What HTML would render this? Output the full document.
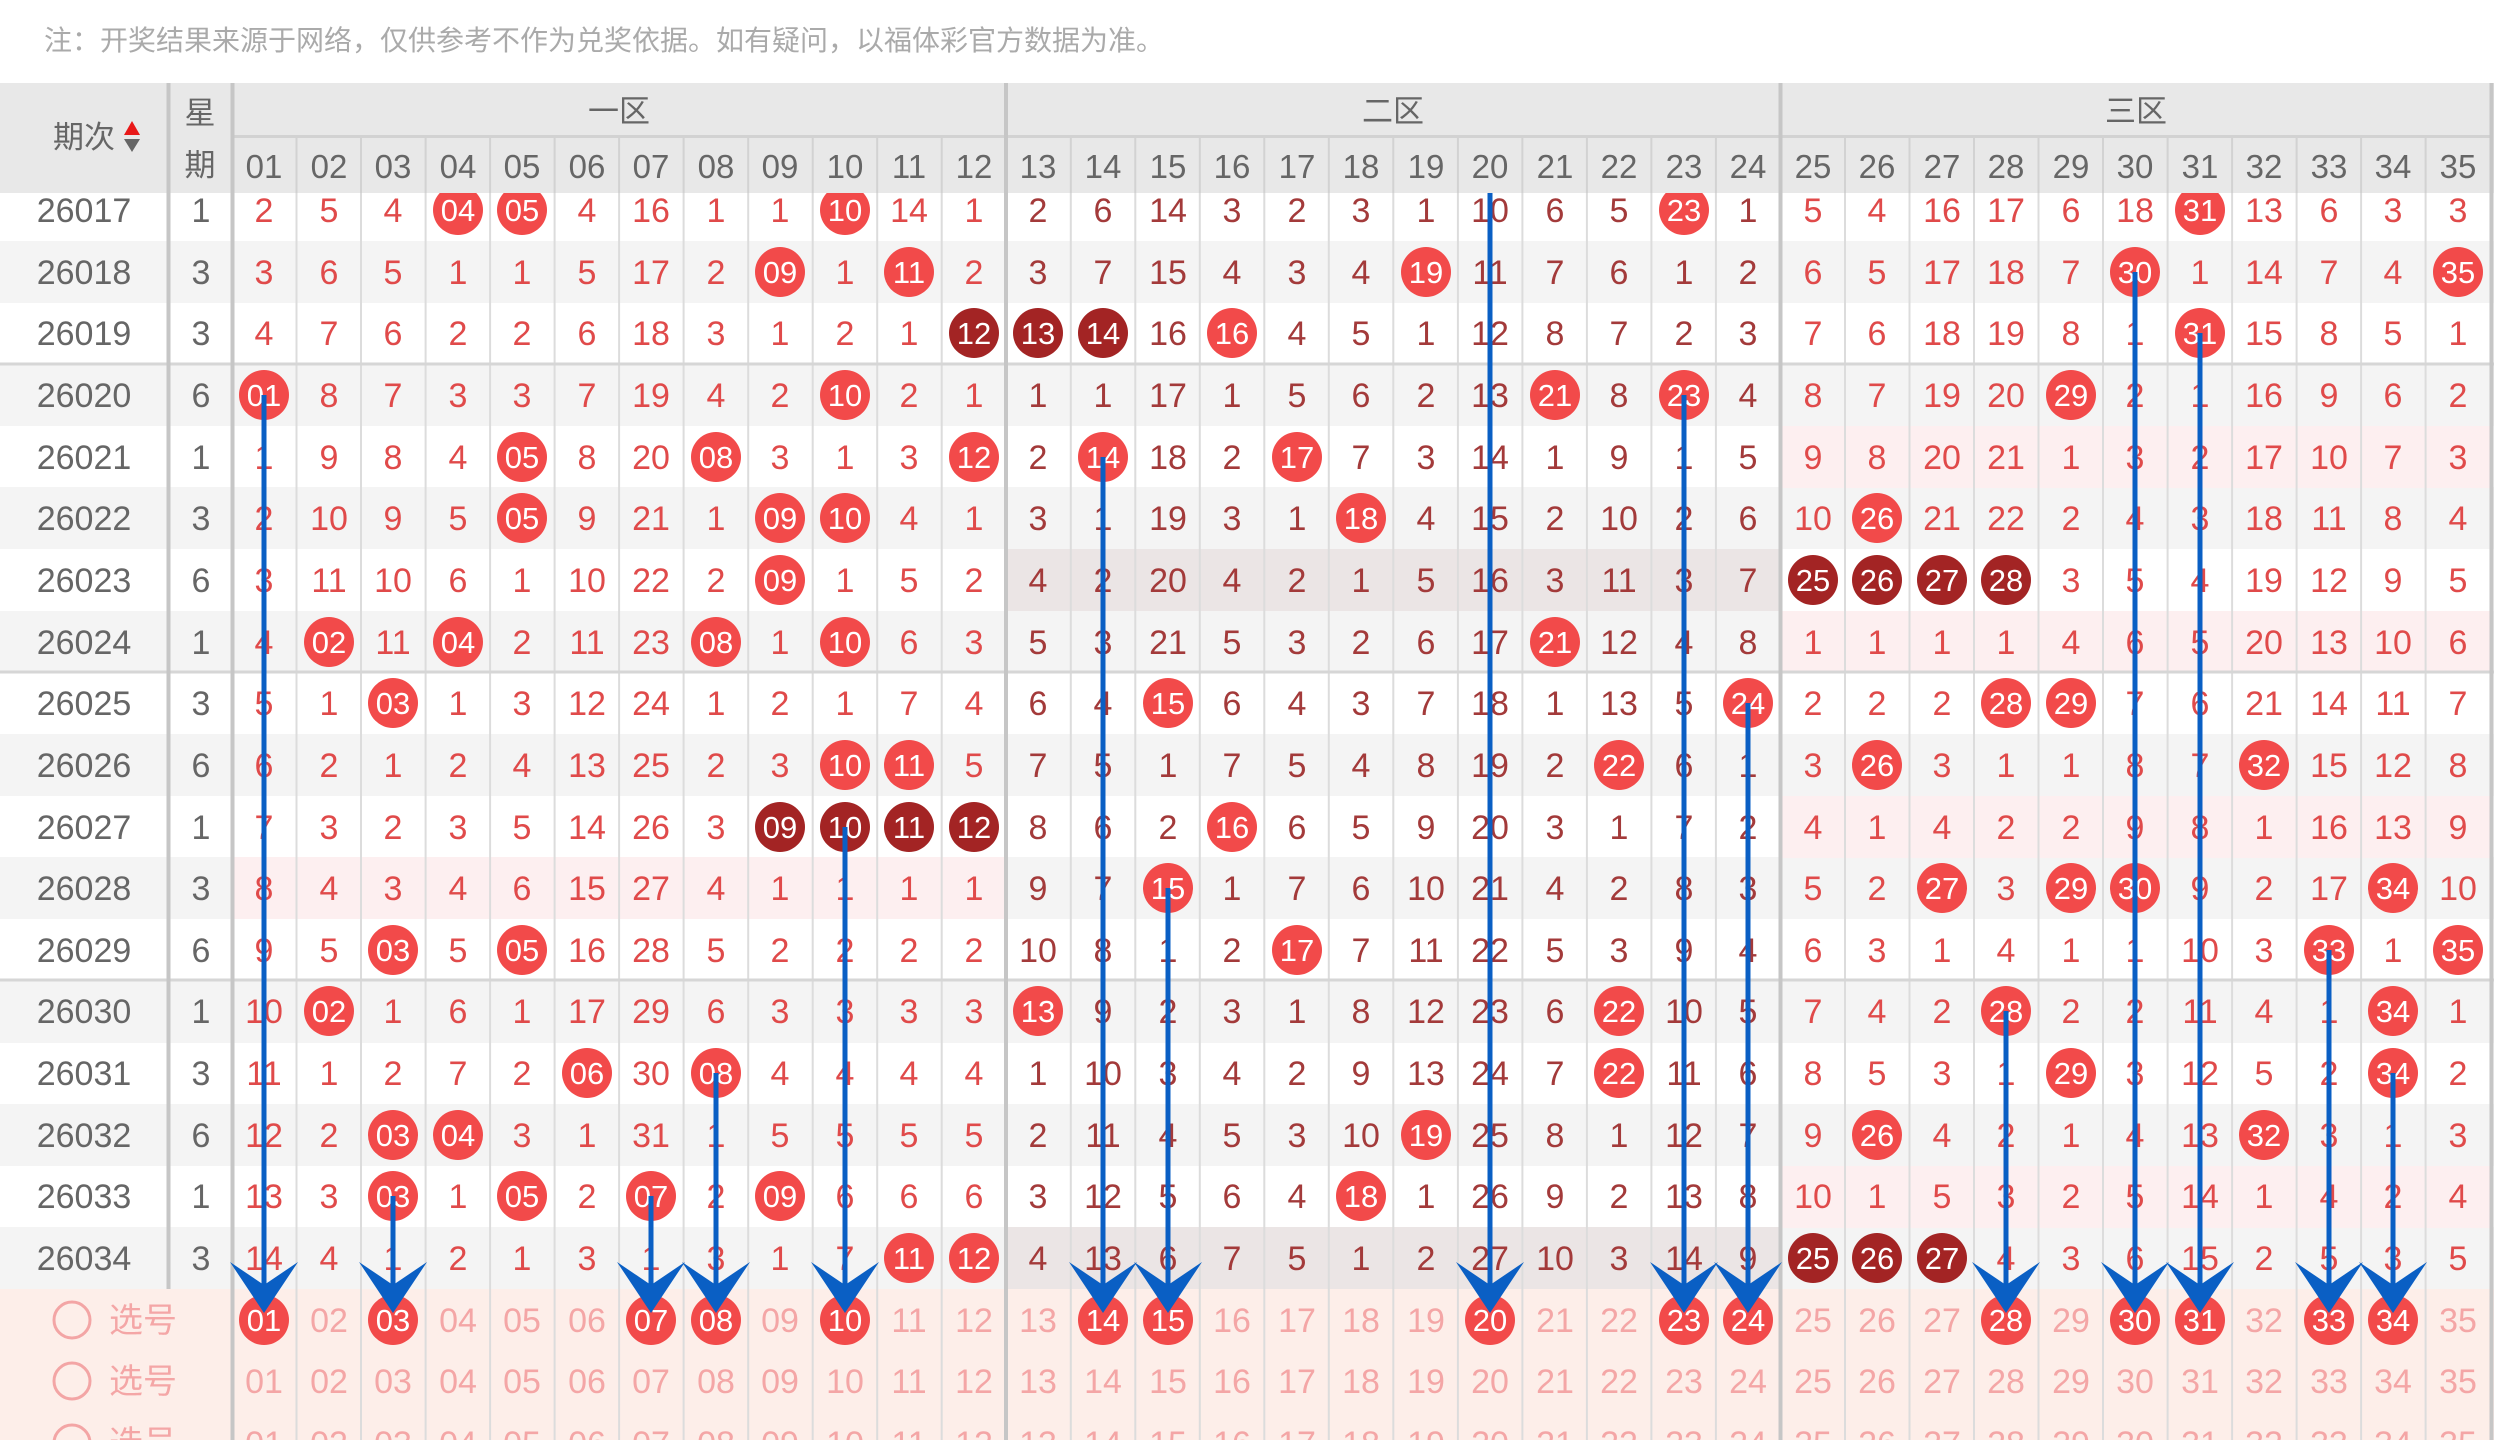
<!DOCTYPE html>
<html><head><meta charset="utf-8"><style>
html,body{margin:0;padding:0;background:#fff;}
svg{display:block;}
text{font-family:"Liberation Sans","Noto Sans CJK SC",sans-serif;}
.a{fill:#e04a4a;font-size:34px;}
.b{fill:#a33a3a;font-size:34px;}
.w{fill:#fff;font-size:31px;}
.g{fill:#666;font-size:34px;}
.h{fill:#666;font-size:33px;}
.p{fill:#f4a6a6;font-size:34px;}
.r{fill:#f24a4a;}
.d{fill:#a32424;}
</style></head><body>
<svg width="2494" height="1440" viewBox="0 0 2494 1440" xmlns="http://www.w3.org/2000/svg">
<rect width="2494" height="1440" fill="#fff"/>
<text x="44" y="50" style="font-size:28px;fill:#aaa">注：开奖结果来源于网络，仅供参考不作为兑奖依据。如有疑问，以福体彩官方数据为准。</text>
<!-- row backgrounds -->
<g fill="#f4f4f4">
<rect x="0" y="241" width="2494" height="62"/>
<rect x="0" y="364" width="2494" height="62"/>
<rect x="0" y="487" width="2494" height="62"/>
<rect x="0" y="611" width="2494" height="62"/>
<rect x="0" y="734" width="2494" height="62"/>
<rect x="0" y="857" width="2494" height="62"/>
<rect x="0" y="981" width="2494" height="62"/>
<rect x="0" y="1104" width="2494" height="62"/>
<rect x="0" y="1227" width="2494" height="62"/>
</g>
<g fill="#fdeff0">
<rect x="1781" y="426" width="710" height="62"/>
<rect x="1781" y="611" width="710" height="62"/>
<rect x="1781" y="796" width="710" height="62"/>
<rect x="1781" y="1166" width="710" height="62"/>
<rect x="234" y="857" width="772" height="62"/>
</g>
<g fill="#ebe5e5">
<rect x="1006" y="549" width="775" height="62"/>
<rect x="1006" y="1227" width="775" height="62"/>
</g>
<rect x="0" y="1289" width="2494" height="151" fill="#fdeee9"/>
<!-- grid -->
<path d="M296.5 137V1440M361 137V1440M425.6 137V1440M490.1 137V1440M554.6 137V1440M619.1 137V1440M683.6 137V1440M748.2 137V1440M812.7 137V1440M877.2 137V1440M941.7 137V1440M1070.8 137V1440M1135.3 137V1440M1199.8 137V1440M1264.3 137V1440M1328.8 137V1440M1393.3 137V1440M1457.9 137V1440M1522.4 137V1440M1586.9 137V1440M1651.4 137V1440M1715.9 137V1440M1845 137V1440M1909.5 137V1440M1974 137V1440M2038.5 137V1440M2103 137V1440M2167.6 137V1440M2232.1 137V1440M2296.6 137V1440M2361.1 137V1440M2425.6 137V1440" stroke="#dcdcdc" stroke-width="2" fill="none"/>
<path d="M0 364H2494M0 672H2494M0 980H2494" stroke="#d6d6d6" stroke-width="3"/>
<path d="M168.5 83V1289M232.5 83V1440M1006 83V1440M1780.5 83V1440M2491.5 83V1440" stroke="#c6c6c6" stroke-width="4" fill="none"/>

<!-- period & weekday -->
<g class="g" text-anchor="middle">
<text x="84" y="222">26017</text><text x="201" y="222">1</text>
<text x="84" y="284">26018</text><text x="201" y="284">3</text>
<text x="84" y="345">26019</text><text x="201" y="345">3</text>
<text x="84" y="407">26020</text><text x="201" y="407">6</text>
<text x="84" y="469">26021</text><text x="201" y="469">1</text>
<text x="84" y="530">26022</text><text x="201" y="530">3</text>
<text x="84" y="592">26023</text><text x="201" y="592">6</text>
<text x="84" y="654">26024</text><text x="201" y="654">1</text>
<text x="84" y="715">26025</text><text x="201" y="715">3</text>
<text x="84" y="777">26026</text><text x="201" y="777">6</text>
<text x="84" y="839">26027</text><text x="201" y="839">1</text>
<text x="84" y="900">26028</text><text x="201" y="900">3</text>
<text x="84" y="962">26029</text><text x="201" y="962">6</text>
<text x="84" y="1023">26030</text><text x="201" y="1023">1</text>
<text x="84" y="1085">26031</text><text x="201" y="1085">3</text>
<text x="84" y="1147">26032</text><text x="201" y="1147">6</text>
<text x="84" y="1208">26033</text><text x="201" y="1208">1</text>
<text x="84" y="1270">26034</text><text x="201" y="1270">3</text>
</g>

<g text-anchor="middle">
<!-- r0 -->
<text class="a" y="222"><tspan x="264">2</tspan><tspan x="329">5</tspan><tspan x="393">4</tspan><tspan x="587">4</tspan><tspan x="651">16</tspan><tspan x="716">1</tspan><tspan x="780">1</tspan><tspan x="909">14</tspan><tspan x="974">1</tspan><tspan x="1813">5</tspan><tspan x="1877">4</tspan><tspan x="1942">16</tspan><tspan x="2006">17</tspan><tspan x="2071">6</tspan><tspan x="2135">18</tspan><tspan x="2264">13</tspan><tspan x="2329">6</tspan><tspan x="2393">3</tspan><tspan x="2458">3</tspan></text>
<text class="b" y="222"><tspan x="1038">2</tspan><tspan x="1103">6</tspan><tspan x="1168">14</tspan><tspan x="1232">3</tspan><tspan x="1297">2</tspan><tspan x="1361">3</tspan><tspan x="1426">1</tspan><tspan x="1490">10</tspan><tspan x="1555">6</tspan><tspan x="1619">5</tspan><tspan x="1748">1</tspan></text>
<!-- r1 -->
<text class="a" y="284"><tspan x="264">3</tspan><tspan x="329">6</tspan><tspan x="393">5</tspan><tspan x="458">1</tspan><tspan x="522">1</tspan><tspan x="587">5</tspan><tspan x="651">17</tspan><tspan x="716">2</tspan><tspan x="845">1</tspan><tspan x="974">2</tspan><tspan x="1813">6</tspan><tspan x="1877">5</tspan><tspan x="1942">17</tspan><tspan x="2006">18</tspan><tspan x="2071">7</tspan><tspan x="2200">1</tspan><tspan x="2264">14</tspan><tspan x="2329">7</tspan><tspan x="2393">4</tspan></text>
<text class="b" y="284"><tspan x="1038">3</tspan><tspan x="1103">7</tspan><tspan x="1168">15</tspan><tspan x="1232">4</tspan><tspan x="1297">3</tspan><tspan x="1361">4</tspan><tspan x="1490">11</tspan><tspan x="1555">7</tspan><tspan x="1619">6</tspan><tspan x="1684">1</tspan><tspan x="1748">2</tspan></text>
<!-- r2 -->
<text class="a" y="345"><tspan x="264">4</tspan><tspan x="329">7</tspan><tspan x="393">6</tspan><tspan x="458">2</tspan><tspan x="522">2</tspan><tspan x="587">6</tspan><tspan x="651">18</tspan><tspan x="716">3</tspan><tspan x="780">1</tspan><tspan x="845">2</tspan><tspan x="909">1</tspan><tspan x="1813">7</tspan><tspan x="1877">6</tspan><tspan x="1942">18</tspan><tspan x="2006">19</tspan><tspan x="2071">8</tspan><tspan x="2135">1</tspan><tspan x="2264">15</tspan><tspan x="2329">8</tspan><tspan x="2393">5</tspan><tspan x="2458">1</tspan></text>
<text class="b" y="345"><tspan x="1168">16</tspan><tspan x="1297">4</tspan><tspan x="1361">5</tspan><tspan x="1426">1</tspan><tspan x="1490">12</tspan><tspan x="1555">8</tspan><tspan x="1619">7</tspan><tspan x="1684">2</tspan><tspan x="1748">3</tspan></text>
<!-- r3 -->
<text class="a" y="407"><tspan x="329">8</tspan><tspan x="393">7</tspan><tspan x="458">3</tspan><tspan x="522">3</tspan><tspan x="587">7</tspan><tspan x="651">19</tspan><tspan x="716">4</tspan><tspan x="780">2</tspan><tspan x="909">2</tspan><tspan x="974">1</tspan><tspan x="1813">8</tspan><tspan x="1877">7</tspan><tspan x="1942">19</tspan><tspan x="2006">20</tspan><tspan x="2135">2</tspan><tspan x="2200">1</tspan><tspan x="2264">16</tspan><tspan x="2329">9</tspan><tspan x="2393">6</tspan><tspan x="2458">2</tspan></text>
<text class="b" y="407"><tspan x="1038">1</tspan><tspan x="1103">1</tspan><tspan x="1168">17</tspan><tspan x="1232">1</tspan><tspan x="1297">5</tspan><tspan x="1361">6</tspan><tspan x="1426">2</tspan><tspan x="1490">13</tspan><tspan x="1619">8</tspan><tspan x="1748">4</tspan></text>
<!-- r4 -->
<text class="a" y="469"><tspan x="264">1</tspan><tspan x="329">9</tspan><tspan x="393">8</tspan><tspan x="458">4</tspan><tspan x="587">8</tspan><tspan x="651">20</tspan><tspan x="780">3</tspan><tspan x="845">1</tspan><tspan x="909">3</tspan><tspan x="1813">9</tspan><tspan x="1877">8</tspan><tspan x="1942">20</tspan><tspan x="2006">21</tspan><tspan x="2071">1</tspan><tspan x="2135">3</tspan><tspan x="2200">2</tspan><tspan x="2264">17</tspan><tspan x="2329">10</tspan><tspan x="2393">7</tspan><tspan x="2458">3</tspan></text>
<text class="b" y="469"><tspan x="1038">2</tspan><tspan x="1168">18</tspan><tspan x="1232">2</tspan><tspan x="1361">7</tspan><tspan x="1426">3</tspan><tspan x="1490">14</tspan><tspan x="1555">1</tspan><tspan x="1619">9</tspan><tspan x="1684">1</tspan><tspan x="1748">5</tspan></text>
<!-- r5 -->
<text class="a" y="530"><tspan x="264">2</tspan><tspan x="329">10</tspan><tspan x="393">9</tspan><tspan x="458">5</tspan><tspan x="587">9</tspan><tspan x="651">21</tspan><tspan x="716">1</tspan><tspan x="909">4</tspan><tspan x="974">1</tspan><tspan x="1813">10</tspan><tspan x="1942">21</tspan><tspan x="2006">22</tspan><tspan x="2071">2</tspan><tspan x="2135">4</tspan><tspan x="2200">3</tspan><tspan x="2264">18</tspan><tspan x="2329">11</tspan><tspan x="2393">8</tspan><tspan x="2458">4</tspan></text>
<text class="b" y="530"><tspan x="1038">3</tspan><tspan x="1103">1</tspan><tspan x="1168">19</tspan><tspan x="1232">3</tspan><tspan x="1297">1</tspan><tspan x="1426">4</tspan><tspan x="1490">15</tspan><tspan x="1555">2</tspan><tspan x="1619">10</tspan><tspan x="1684">2</tspan><tspan x="1748">6</tspan></text>
<!-- r6 -->
<text class="a" y="592"><tspan x="264">3</tspan><tspan x="329">11</tspan><tspan x="393">10</tspan><tspan x="458">6</tspan><tspan x="522">1</tspan><tspan x="587">10</tspan><tspan x="651">22</tspan><tspan x="716">2</tspan><tspan x="845">1</tspan><tspan x="909">5</tspan><tspan x="974">2</tspan><tspan x="2071">3</tspan><tspan x="2135">5</tspan><tspan x="2200">4</tspan><tspan x="2264">19</tspan><tspan x="2329">12</tspan><tspan x="2393">9</tspan><tspan x="2458">5</tspan></text>
<text class="b" y="592"><tspan x="1038">4</tspan><tspan x="1103">2</tspan><tspan x="1168">20</tspan><tspan x="1232">4</tspan><tspan x="1297">2</tspan><tspan x="1361">1</tspan><tspan x="1426">5</tspan><tspan x="1490">16</tspan><tspan x="1555">3</tspan><tspan x="1619">11</tspan><tspan x="1684">3</tspan><tspan x="1748">7</tspan></text>
<!-- r7 -->
<text class="a" y="654"><tspan x="264">4</tspan><tspan x="393">11</tspan><tspan x="522">2</tspan><tspan x="587">11</tspan><tspan x="651">23</tspan><tspan x="780">1</tspan><tspan x="909">6</tspan><tspan x="974">3</tspan><tspan x="1813">1</tspan><tspan x="1877">1</tspan><tspan x="1942">1</tspan><tspan x="2006">1</tspan><tspan x="2071">4</tspan><tspan x="2135">6</tspan><tspan x="2200">5</tspan><tspan x="2264">20</tspan><tspan x="2329">13</tspan><tspan x="2393">10</tspan><tspan x="2458">6</tspan></text>
<text class="b" y="654"><tspan x="1038">5</tspan><tspan x="1103">3</tspan><tspan x="1168">21</tspan><tspan x="1232">5</tspan><tspan x="1297">3</tspan><tspan x="1361">2</tspan><tspan x="1426">6</tspan><tspan x="1490">17</tspan><tspan x="1619">12</tspan><tspan x="1684">4</tspan><tspan x="1748">8</tspan></text>
<!-- r8 -->
<text class="a" y="715"><tspan x="264">5</tspan><tspan x="329">1</tspan><tspan x="458">1</tspan><tspan x="522">3</tspan><tspan x="587">12</tspan><tspan x="651">24</tspan><tspan x="716">1</tspan><tspan x="780">2</tspan><tspan x="845">1</tspan><tspan x="909">7</tspan><tspan x="974">4</tspan><tspan x="1813">2</tspan><tspan x="1877">2</tspan><tspan x="1942">2</tspan><tspan x="2135">7</tspan><tspan x="2200">6</tspan><tspan x="2264">21</tspan><tspan x="2329">14</tspan><tspan x="2393">11</tspan><tspan x="2458">7</tspan></text>
<text class="b" y="715"><tspan x="1038">6</tspan><tspan x="1103">4</tspan><tspan x="1232">6</tspan><tspan x="1297">4</tspan><tspan x="1361">3</tspan><tspan x="1426">7</tspan><tspan x="1490">18</tspan><tspan x="1555">1</tspan><tspan x="1619">13</tspan><tspan x="1684">5</tspan></text>
<!-- r9 -->
<text class="a" y="777"><tspan x="264">6</tspan><tspan x="329">2</tspan><tspan x="393">1</tspan><tspan x="458">2</tspan><tspan x="522">4</tspan><tspan x="587">13</tspan><tspan x="651">25</tspan><tspan x="716">2</tspan><tspan x="780">3</tspan><tspan x="974">5</tspan><tspan x="1813">3</tspan><tspan x="1942">3</tspan><tspan x="2006">1</tspan><tspan x="2071">1</tspan><tspan x="2135">8</tspan><tspan x="2200">7</tspan><tspan x="2329">15</tspan><tspan x="2393">12</tspan><tspan x="2458">8</tspan></text>
<text class="b" y="777"><tspan x="1038">7</tspan><tspan x="1103">5</tspan><tspan x="1168">1</tspan><tspan x="1232">7</tspan><tspan x="1297">5</tspan><tspan x="1361">4</tspan><tspan x="1426">8</tspan><tspan x="1490">19</tspan><tspan x="1555">2</tspan><tspan x="1684">6</tspan><tspan x="1748">1</tspan></text>
<!-- r10 -->
<text class="a" y="839"><tspan x="264">7</tspan><tspan x="329">3</tspan><tspan x="393">2</tspan><tspan x="458">3</tspan><tspan x="522">5</tspan><tspan x="587">14</tspan><tspan x="651">26</tspan><tspan x="716">3</tspan><tspan x="1813">4</tspan><tspan x="1877">1</tspan><tspan x="1942">4</tspan><tspan x="2006">2</tspan><tspan x="2071">2</tspan><tspan x="2135">9</tspan><tspan x="2200">8</tspan><tspan x="2264">1</tspan><tspan x="2329">16</tspan><tspan x="2393">13</tspan><tspan x="2458">9</tspan></text>
<text class="b" y="839"><tspan x="1038">8</tspan><tspan x="1103">6</tspan><tspan x="1168">2</tspan><tspan x="1297">6</tspan><tspan x="1361">5</tspan><tspan x="1426">9</tspan><tspan x="1490">20</tspan><tspan x="1555">3</tspan><tspan x="1619">1</tspan><tspan x="1684">7</tspan><tspan x="1748">2</tspan></text>
<!-- r11 -->
<text class="a" y="900"><tspan x="264">8</tspan><tspan x="329">4</tspan><tspan x="393">3</tspan><tspan x="458">4</tspan><tspan x="522">6</tspan><tspan x="587">15</tspan><tspan x="651">27</tspan><tspan x="716">4</tspan><tspan x="780">1</tspan><tspan x="845">1</tspan><tspan x="909">1</tspan><tspan x="974">1</tspan><tspan x="1813">5</tspan><tspan x="1877">2</tspan><tspan x="2006">3</tspan><tspan x="2200">9</tspan><tspan x="2264">2</tspan><tspan x="2329">17</tspan><tspan x="2458">10</tspan></text>
<text class="b" y="900"><tspan x="1038">9</tspan><tspan x="1103">7</tspan><tspan x="1232">1</tspan><tspan x="1297">7</tspan><tspan x="1361">6</tspan><tspan x="1426">10</tspan><tspan x="1490">21</tspan><tspan x="1555">4</tspan><tspan x="1619">2</tspan><tspan x="1684">8</tspan><tspan x="1748">3</tspan></text>
<!-- r12 -->
<text class="a" y="962"><tspan x="264">9</tspan><tspan x="329">5</tspan><tspan x="458">5</tspan><tspan x="587">16</tspan><tspan x="651">28</tspan><tspan x="716">5</tspan><tspan x="780">2</tspan><tspan x="845">2</tspan><tspan x="909">2</tspan><tspan x="974">2</tspan><tspan x="1813">6</tspan><tspan x="1877">3</tspan><tspan x="1942">1</tspan><tspan x="2006">4</tspan><tspan x="2071">1</tspan><tspan x="2135">1</tspan><tspan x="2200">10</tspan><tspan x="2264">3</tspan><tspan x="2393">1</tspan></text>
<text class="b" y="962"><tspan x="1038">10</tspan><tspan x="1103">8</tspan><tspan x="1168">1</tspan><tspan x="1232">2</tspan><tspan x="1361">7</tspan><tspan x="1426">11</tspan><tspan x="1490">22</tspan><tspan x="1555">5</tspan><tspan x="1619">3</tspan><tspan x="1684">9</tspan><tspan x="1748">4</tspan></text>
<!-- r13 -->
<text class="a" y="1023"><tspan x="264">10</tspan><tspan x="393">1</tspan><tspan x="458">6</tspan><tspan x="522">1</tspan><tspan x="587">17</tspan><tspan x="651">29</tspan><tspan x="716">6</tspan><tspan x="780">3</tspan><tspan x="845">3</tspan><tspan x="909">3</tspan><tspan x="974">3</tspan><tspan x="1813">7</tspan><tspan x="1877">4</tspan><tspan x="1942">2</tspan><tspan x="2071">2</tspan><tspan x="2135">2</tspan><tspan x="2200">11</tspan><tspan x="2264">4</tspan><tspan x="2329">1</tspan><tspan x="2458">1</tspan></text>
<text class="b" y="1023"><tspan x="1103">9</tspan><tspan x="1168">2</tspan><tspan x="1232">3</tspan><tspan x="1297">1</tspan><tspan x="1361">8</tspan><tspan x="1426">12</tspan><tspan x="1490">23</tspan><tspan x="1555">6</tspan><tspan x="1684">10</tspan><tspan x="1748">5</tspan></text>
<!-- r14 -->
<text class="a" y="1085"><tspan x="264">11</tspan><tspan x="329">1</tspan><tspan x="393">2</tspan><tspan x="458">7</tspan><tspan x="522">2</tspan><tspan x="651">30</tspan><tspan x="780">4</tspan><tspan x="845">4</tspan><tspan x="909">4</tspan><tspan x="974">4</tspan><tspan x="1813">8</tspan><tspan x="1877">5</tspan><tspan x="1942">3</tspan><tspan x="2006">1</tspan><tspan x="2135">3</tspan><tspan x="2200">12</tspan><tspan x="2264">5</tspan><tspan x="2329">2</tspan><tspan x="2458">2</tspan></text>
<text class="b" y="1085"><tspan x="1038">1</tspan><tspan x="1103">10</tspan><tspan x="1168">3</tspan><tspan x="1232">4</tspan><tspan x="1297">2</tspan><tspan x="1361">9</tspan><tspan x="1426">13</tspan><tspan x="1490">24</tspan><tspan x="1555">7</tspan><tspan x="1684">11</tspan><tspan x="1748">6</tspan></text>
<!-- r15 -->
<text class="a" y="1147"><tspan x="264">12</tspan><tspan x="329">2</tspan><tspan x="522">3</tspan><tspan x="587">1</tspan><tspan x="651">31</tspan><tspan x="716">1</tspan><tspan x="780">5</tspan><tspan x="845">5</tspan><tspan x="909">5</tspan><tspan x="974">5</tspan><tspan x="1813">9</tspan><tspan x="1942">4</tspan><tspan x="2006">2</tspan><tspan x="2071">1</tspan><tspan x="2135">4</tspan><tspan x="2200">13</tspan><tspan x="2329">3</tspan><tspan x="2393">1</tspan><tspan x="2458">3</tspan></text>
<text class="b" y="1147"><tspan x="1038">2</tspan><tspan x="1103">11</tspan><tspan x="1168">4</tspan><tspan x="1232">5</tspan><tspan x="1297">3</tspan><tspan x="1361">10</tspan><tspan x="1490">25</tspan><tspan x="1555">8</tspan><tspan x="1619">1</tspan><tspan x="1684">12</tspan><tspan x="1748">7</tspan></text>
<!-- r16 -->
<text class="a" y="1208"><tspan x="264">13</tspan><tspan x="329">3</tspan><tspan x="458">1</tspan><tspan x="587">2</tspan><tspan x="716">2</tspan><tspan x="845">6</tspan><tspan x="909">6</tspan><tspan x="974">6</tspan><tspan x="1813">10</tspan><tspan x="1877">1</tspan><tspan x="1942">5</tspan><tspan x="2006">3</tspan><tspan x="2071">2</tspan><tspan x="2135">5</tspan><tspan x="2200">14</tspan><tspan x="2264">1</tspan><tspan x="2329">4</tspan><tspan x="2393">2</tspan><tspan x="2458">4</tspan></text>
<text class="b" y="1208"><tspan x="1038">3</tspan><tspan x="1103">12</tspan><tspan x="1168">5</tspan><tspan x="1232">6</tspan><tspan x="1297">4</tspan><tspan x="1426">1</tspan><tspan x="1490">26</tspan><tspan x="1555">9</tspan><tspan x="1619">2</tspan><tspan x="1684">13</tspan><tspan x="1748">8</tspan></text>
<!-- r17 -->
<text class="a" y="1270"><tspan x="264">14</tspan><tspan x="329">4</tspan><tspan x="393">1</tspan><tspan x="458">2</tspan><tspan x="522">1</tspan><tspan x="587">3</tspan><tspan x="651">1</tspan><tspan x="716">3</tspan><tspan x="780">1</tspan><tspan x="845">7</tspan><tspan x="2006">4</tspan><tspan x="2071">3</tspan><tspan x="2135">6</tspan><tspan x="2200">15</tspan><tspan x="2264">2</tspan><tspan x="2329">5</tspan><tspan x="2393">3</tspan><tspan x="2458">5</tspan></text>
<text class="b" y="1270"><tspan x="1038">4</tspan><tspan x="1103">13</tspan><tspan x="1168">6</tspan><tspan x="1232">7</tspan><tspan x="1297">5</tspan><tspan x="1361">1</tspan><tspan x="1426">2</tspan><tspan x="1490">27</tspan><tspan x="1555">10</tspan><tspan x="1619">3</tspan><tspan x="1684">14</tspan><tspan x="1748">9</tspan></text>
</g>

<!-- balls -->
<g class="r">
<circle cx="458" cy="210" r="25"/><circle cx="522" cy="210" r="25"/><circle cx="845" cy="210" r="25"/><circle cx="1684" cy="210" r="25"/><circle cx="2200" cy="210" r="25"/>
<circle cx="780" cy="272" r="25"/><circle cx="909" cy="272" r="25"/><circle cx="1426" cy="272" r="25"/><circle cx="2135" cy="272" r="25"/><circle cx="2458" cy="272" r="25"/>
<circle cx="1232" cy="333" r="25"/><circle cx="2200" cy="333" r="25"/>
<circle cx="264" cy="395" r="25"/><circle cx="845" cy="395" r="25"/><circle cx="1555" cy="395" r="25"/><circle cx="1684" cy="395" r="25"/><circle cx="2071" cy="395" r="25"/>
<circle cx="522" cy="457" r="25"/><circle cx="716" cy="457" r="25"/><circle cx="974" cy="457" r="25"/><circle cx="1103" cy="457" r="25"/><circle cx="1297" cy="457" r="25"/>
<circle cx="522" cy="518" r="25"/><circle cx="780" cy="518" r="25"/><circle cx="845" cy="518" r="25"/><circle cx="1361" cy="518" r="25"/><circle cx="1877" cy="518" r="25"/>
<circle cx="780" cy="580" r="25"/>
<circle cx="329" cy="642" r="25"/><circle cx="458" cy="642" r="25"/><circle cx="716" cy="642" r="25"/><circle cx="845" cy="642" r="25"/><circle cx="1555" cy="642" r="25"/>
<circle cx="393" cy="703" r="25"/><circle cx="1168" cy="703" r="25"/><circle cx="1748" cy="703" r="25"/><circle cx="2006" cy="703" r="25"/><circle cx="2071" cy="703" r="25"/>
<circle cx="845" cy="765" r="25"/><circle cx="909" cy="765" r="25"/><circle cx="1619" cy="765" r="25"/><circle cx="1877" cy="765" r="25"/><circle cx="2264" cy="765" r="25"/>
<circle cx="1232" cy="827" r="25"/>
<circle cx="1168" cy="888" r="25"/><circle cx="1942" cy="888" r="25"/><circle cx="2071" cy="888" r="25"/><circle cx="2135" cy="888" r="25"/><circle cx="2393" cy="888" r="25"/>
<circle cx="393" cy="950" r="25"/><circle cx="522" cy="950" r="25"/><circle cx="1297" cy="950" r="25"/><circle cx="2329" cy="950" r="25"/><circle cx="2458" cy="950" r="25"/>
<circle cx="329" cy="1011" r="25"/><circle cx="1038" cy="1011" r="25"/><circle cx="1619" cy="1011" r="25"/><circle cx="2006" cy="1011" r="25"/><circle cx="2393" cy="1011" r="25"/>
<circle cx="587" cy="1073" r="25"/><circle cx="716" cy="1073" r="25"/><circle cx="1619" cy="1073" r="25"/><circle cx="2071" cy="1073" r="25"/><circle cx="2393" cy="1073" r="25"/>
<circle cx="393" cy="1135" r="25"/><circle cx="458" cy="1135" r="25"/><circle cx="1426" cy="1135" r="25"/><circle cx="1877" cy="1135" r="25"/><circle cx="2264" cy="1135" r="25"/>
<circle cx="393" cy="1196" r="25"/><circle cx="522" cy="1196" r="25"/><circle cx="651" cy="1196" r="25"/><circle cx="780" cy="1196" r="25"/><circle cx="1361" cy="1196" r="25"/>
<circle cx="909" cy="1258" r="25"/><circle cx="974" cy="1258" r="25"/>
<circle cx="264" cy="1320" r="25"/><circle cx="393" cy="1320" r="25"/><circle cx="651" cy="1320" r="25"/><circle cx="716" cy="1320" r="25"/><circle cx="845" cy="1320" r="25"/><circle cx="1103" cy="1320" r="25"/><circle cx="1168" cy="1320" r="25"/><circle cx="1490" cy="1320" r="25"/><circle cx="1684" cy="1320" r="25"/><circle cx="1748" cy="1320" r="25"/><circle cx="2006" cy="1320" r="25"/><circle cx="2135" cy="1320" r="25"/><circle cx="2200" cy="1320" r="25"/><circle cx="2329" cy="1320" r="25"/><circle cx="2393" cy="1320" r="25"/>
</g>
<g class="d">
<circle cx="974" cy="333" r="25"/><circle cx="1038" cy="333" r="25"/><circle cx="1103" cy="333" r="25"/>
<circle cx="1813" cy="580" r="25"/><circle cx="1877" cy="580" r="25"/><circle cx="1942" cy="580" r="25"/><circle cx="2006" cy="580" r="25"/>
<circle cx="780" cy="827" r="25"/><circle cx="845" cy="827" r="25"/><circle cx="909" cy="827" r="25"/><circle cx="974" cy="827" r="25"/>
<circle cx="1813" cy="1258" r="25"/><circle cx="1877" cy="1258" r="25"/><circle cx="1942" cy="1258" r="25"/>
</g>
<g class="w" text-anchor="middle">
<text y="221"><tspan x="458">04</tspan><tspan x="522">05</tspan><tspan x="845">10</tspan><tspan x="1684">23</tspan><tspan x="2200">31</tspan></text>
<text y="283"><tspan x="780">09</tspan><tspan x="909">11</tspan><tspan x="1426">19</tspan><tspan x="2135">30</tspan><tspan x="2458">35</tspan></text>
<text y="344"><tspan x="974">12</tspan><tspan x="1038">13</tspan><tspan x="1103">14</tspan><tspan x="1232">16</tspan><tspan x="2200">31</tspan></text>
<text y="406"><tspan x="264">01</tspan><tspan x="845">10</tspan><tspan x="1555">21</tspan><tspan x="1684">23</tspan><tspan x="2071">29</tspan></text>
<text y="468"><tspan x="522">05</tspan><tspan x="716">08</tspan><tspan x="974">12</tspan><tspan x="1103">14</tspan><tspan x="1297">17</tspan></text>
<text y="529"><tspan x="522">05</tspan><tspan x="780">09</tspan><tspan x="845">10</tspan><tspan x="1361">18</tspan><tspan x="1877">26</tspan></text>
<text y="591"><tspan x="780">09</tspan><tspan x="1813">25</tspan><tspan x="1877">26</tspan><tspan x="1942">27</tspan><tspan x="2006">28</tspan></text>
<text y="653"><tspan x="329">02</tspan><tspan x="458">04</tspan><tspan x="716">08</tspan><tspan x="845">10</tspan><tspan x="1555">21</tspan></text>
<text y="714"><tspan x="393">03</tspan><tspan x="1168">15</tspan><tspan x="1748">24</tspan><tspan x="2006">28</tspan><tspan x="2071">29</tspan></text>
<text y="776"><tspan x="845">10</tspan><tspan x="909">11</tspan><tspan x="1619">22</tspan><tspan x="1877">26</tspan><tspan x="2264">32</tspan></text>
<text y="838"><tspan x="780">09</tspan><tspan x="845">10</tspan><tspan x="909">11</tspan><tspan x="974">12</tspan><tspan x="1232">16</tspan></text>
<text y="899"><tspan x="1168">15</tspan><tspan x="1942">27</tspan><tspan x="2071">29</tspan><tspan x="2135">30</tspan><tspan x="2393">34</tspan></text>
<text y="961"><tspan x="393">03</tspan><tspan x="522">05</tspan><tspan x="1297">17</tspan><tspan x="2329">33</tspan><tspan x="2458">35</tspan></text>
<text y="1022"><tspan x="329">02</tspan><tspan x="1038">13</tspan><tspan x="1619">22</tspan><tspan x="2006">28</tspan><tspan x="2393">34</tspan></text>
<text y="1084"><tspan x="587">06</tspan><tspan x="716">08</tspan><tspan x="1619">22</tspan><tspan x="2071">29</tspan><tspan x="2393">34</tspan></text>
<text y="1146"><tspan x="393">03</tspan><tspan x="458">04</tspan><tspan x="1426">19</tspan><tspan x="1877">26</tspan><tspan x="2264">32</tspan></text>
<text y="1207"><tspan x="393">03</tspan><tspan x="522">05</tspan><tspan x="651">07</tspan><tspan x="780">09</tspan><tspan x="1361">18</tspan></text>
<text y="1269"><tspan x="909">11</tspan><tspan x="974">12</tspan><tspan x="1813">25</tspan><tspan x="1877">26</tspan><tspan x="1942">27</tspan></text>
<text y="1331"><tspan x="264">01</tspan><tspan x="393">03</tspan><tspan x="651">07</tspan><tspan x="716">08</tspan><tspan x="845">10</tspan><tspan x="1103">14</tspan><tspan x="1168">15</tspan><tspan x="1490">20</tspan><tspan x="1684">23</tspan><tspan x="1748">24</tspan><tspan x="2006">28</tspan><tspan x="2135">30</tspan><tspan x="2200">31</tspan><tspan x="2329">33</tspan><tspan x="2393">34</tspan></text>
</g>

<!-- selection rows -->
<g fill="none" stroke="#f3a5a5" stroke-width="3">
<circle cx="72" cy="1320" r="18"/><circle cx="72" cy="1381" r="18"/><circle cx="72" cy="1443" r="18"/>
</g>
<g class="p" text-anchor="middle">
<text x="143" y="1332">选号</text><text x="143" y="1393">选号</text><text x="143" y="1455">选号</text>
<text y="1332"><tspan x="329">02</tspan><tspan x="458">04</tspan><tspan x="522">05</tspan><tspan x="587">06</tspan><tspan x="780">09</tspan><tspan x="909">11</tspan><tspan x="974">12</tspan><tspan x="1038">13</tspan><tspan x="1232">16</tspan><tspan x="1297">17</tspan><tspan x="1361">18</tspan><tspan x="1426">19</tspan><tspan x="1555">21</tspan><tspan x="1619">22</tspan><tspan x="1813">25</tspan><tspan x="1877">26</tspan><tspan x="1942">27</tspan><tspan x="2071">29</tspan><tspan x="2264">32</tspan><tspan x="2458">35</tspan></text>
<text y="1393"><tspan x="264">01</tspan><tspan x="329">02</tspan><tspan x="393">03</tspan><tspan x="458">04</tspan><tspan x="522">05</tspan><tspan x="587">06</tspan><tspan x="651">07</tspan><tspan x="716">08</tspan><tspan x="780">09</tspan><tspan x="845">10</tspan><tspan x="909">11</tspan><tspan x="974">12</tspan><tspan x="1038">13</tspan><tspan x="1103">14</tspan><tspan x="1168">15</tspan><tspan x="1232">16</tspan><tspan x="1297">17</tspan><tspan x="1361">18</tspan><tspan x="1426">19</tspan><tspan x="1490">20</tspan><tspan x="1555">21</tspan><tspan x="1619">22</tspan><tspan x="1684">23</tspan><tspan x="1748">24</tspan><tspan x="1813">25</tspan><tspan x="1877">26</tspan><tspan x="1942">27</tspan><tspan x="2006">28</tspan><tspan x="2071">29</tspan><tspan x="2135">30</tspan><tspan x="2200">31</tspan><tspan x="2264">32</tspan><tspan x="2329">33</tspan><tspan x="2393">34</tspan><tspan x="2458">35</tspan></text>
<text y="1455"><tspan x="264">01</tspan><tspan x="329">02</tspan><tspan x="393">03</tspan><tspan x="458">04</tspan><tspan x="522">05</tspan><tspan x="587">06</tspan><tspan x="651">07</tspan><tspan x="716">08</tspan><tspan x="780">09</tspan><tspan x="845">10</tspan><tspan x="909">11</tspan><tspan x="974">12</tspan><tspan x="1038">13</tspan><tspan x="1103">14</tspan><tspan x="1168">15</tspan><tspan x="1232">16</tspan><tspan x="1297">17</tspan><tspan x="1361">18</tspan><tspan x="1426">19</tspan><tspan x="1490">20</tspan><tspan x="1555">21</tspan><tspan x="1619">22</tspan><tspan x="1684">23</tspan><tspan x="1748">24</tspan><tspan x="1813">25</tspan><tspan x="1877">26</tspan><tspan x="1942">27</tspan><tspan x="2006">28</tspan><tspan x="2071">29</tspan><tspan x="2135">30</tspan><tspan x="2200">31</tspan><tspan x="2264">32</tspan><tspan x="2329">33</tspan><tspan x="2393">34</tspan><tspan x="2458">35</tspan></text>
</g>

<!-- header -->
<rect x="0" y="83" width="2494" height="110" fill="#e8e8e8"/>
<path d="M234 136.5H2490" stroke="#d2d2d2" stroke-width="3"/>
<path d="M296.5 137V193M361 137V193M425.6 137V193M490.1 137V193M554.6 137V193M619.1 137V193M683.6 137V193M748.2 137V193M812.7 137V193M877.2 137V193M941.7 137V193M1070.8 137V193M1135.3 137V193M1199.8 137V193M1264.3 137V193M1328.8 137V193M1393.3 137V193M1457.9 137V193M1522.4 137V193M1586.9 137V193M1651.4 137V193M1715.9 137V193M1845 137V193M1909.5 137V193M1974 137V193M2038.5 137V193M2103 137V193M2167.6 137V193M2232.1 137V193M2296.6 137V193M2361.1 137V193M2425.6 137V193" stroke="#d2d2d2" stroke-width="2"/>
<path d="M168.5 83V193M232.5 83V193M1006 83V193M1780.5 83V193M2491.5 83V193" stroke="#c6c6c6" stroke-width="4"/>
<g class="h" text-anchor="middle">
<text x="84" y="148" style="font-size:31px">期次</text>
<text x="200" y="124" style="font-size:31px">星</text>
<text x="200" y="176" style="font-size:31px">期</text>
<text x="619" y="122" style="font-size:31px">一区</text>
<text x="1393" y="122" style="font-size:31px">二区</text>
<text x="2136" y="122" style="font-size:31px">三区</text>
<text y="178"><tspan x="264">01</tspan><tspan x="329">02</tspan><tspan x="393">03</tspan><tspan x="458">04</tspan><tspan x="522">05</tspan><tspan x="587">06</tspan><tspan x="651">07</tspan><tspan x="716">08</tspan><tspan x="780">09</tspan><tspan x="845">10</tspan><tspan x="909">11</tspan><tspan x="974">12</tspan><tspan x="1038">13</tspan><tspan x="1103">14</tspan><tspan x="1168">15</tspan><tspan x="1232">16</tspan><tspan x="1297">17</tspan><tspan x="1361">18</tspan><tspan x="1426">19</tspan><tspan x="1490">20</tspan><tspan x="1555">21</tspan><tspan x="1619">22</tspan><tspan x="1684">23</tspan><tspan x="1748">24</tspan><tspan x="1813">25</tspan><tspan x="1877">26</tspan><tspan x="1942">27</tspan><tspan x="2006">28</tspan><tspan x="2071">29</tspan><tspan x="2135">30</tspan><tspan x="2200">31</tspan><tspan x="2264">32</tspan><tspan x="2329">33</tspan><tspan x="2393">34</tspan><tspan x="2458">35</tspan></text>
</g>
<polygon points="124,135 132,121 140,135" fill="#e81818"/>
<polygon points="124,139 140,139 132,152" fill="#666"/>

<!-- arrows -->
<g stroke="#0a5fc4" stroke-width="5">
<path d="M264 395V1290M393 1196V1290M651 1196V1290M716 1073V1290M845 827V1290M1103 457V1290M1168 888V1290M1490 193V1290M1684 395V1290M1748 703V1290M2006 1011V1290M2135 272V1290M2200 333V1290M2329 950V1290M2393 1073V1290"/>
</g>
<g fill="#0a5fc4">
<polygon points="230,1262 264,1285 298,1262 264,1313"/>
<polygon points="359,1262 393,1285 427,1262 393,1313"/>
<polygon points="617,1262 651,1285 685,1262 651,1313"/>
<polygon points="682,1262 716,1285 750,1262 716,1313"/>
<polygon points="811,1262 845,1285 879,1262 845,1313"/>
<polygon points="1069,1262 1103,1285 1137,1262 1103,1313"/>
<polygon points="1134,1262 1168,1285 1202,1262 1168,1313"/>
<polygon points="1456,1262 1490,1285 1524,1262 1490,1313"/>
<polygon points="1650,1262 1684,1285 1718,1262 1684,1313"/>
<polygon points="1714,1262 1748,1285 1782,1262 1748,1313"/>
<polygon points="1972,1262 2006,1285 2040,1262 2006,1313"/>
<polygon points="2101,1262 2135,1285 2169,1262 2135,1313"/>
<polygon points="2166,1262 2200,1285 2234,1262 2200,1313"/>
<polygon points="2295,1262 2329,1285 2363,1262 2329,1313"/>
<polygon points="2359,1262 2393,1285 2427,1262 2393,1313"/>
</g>
</svg>
</body></html>
